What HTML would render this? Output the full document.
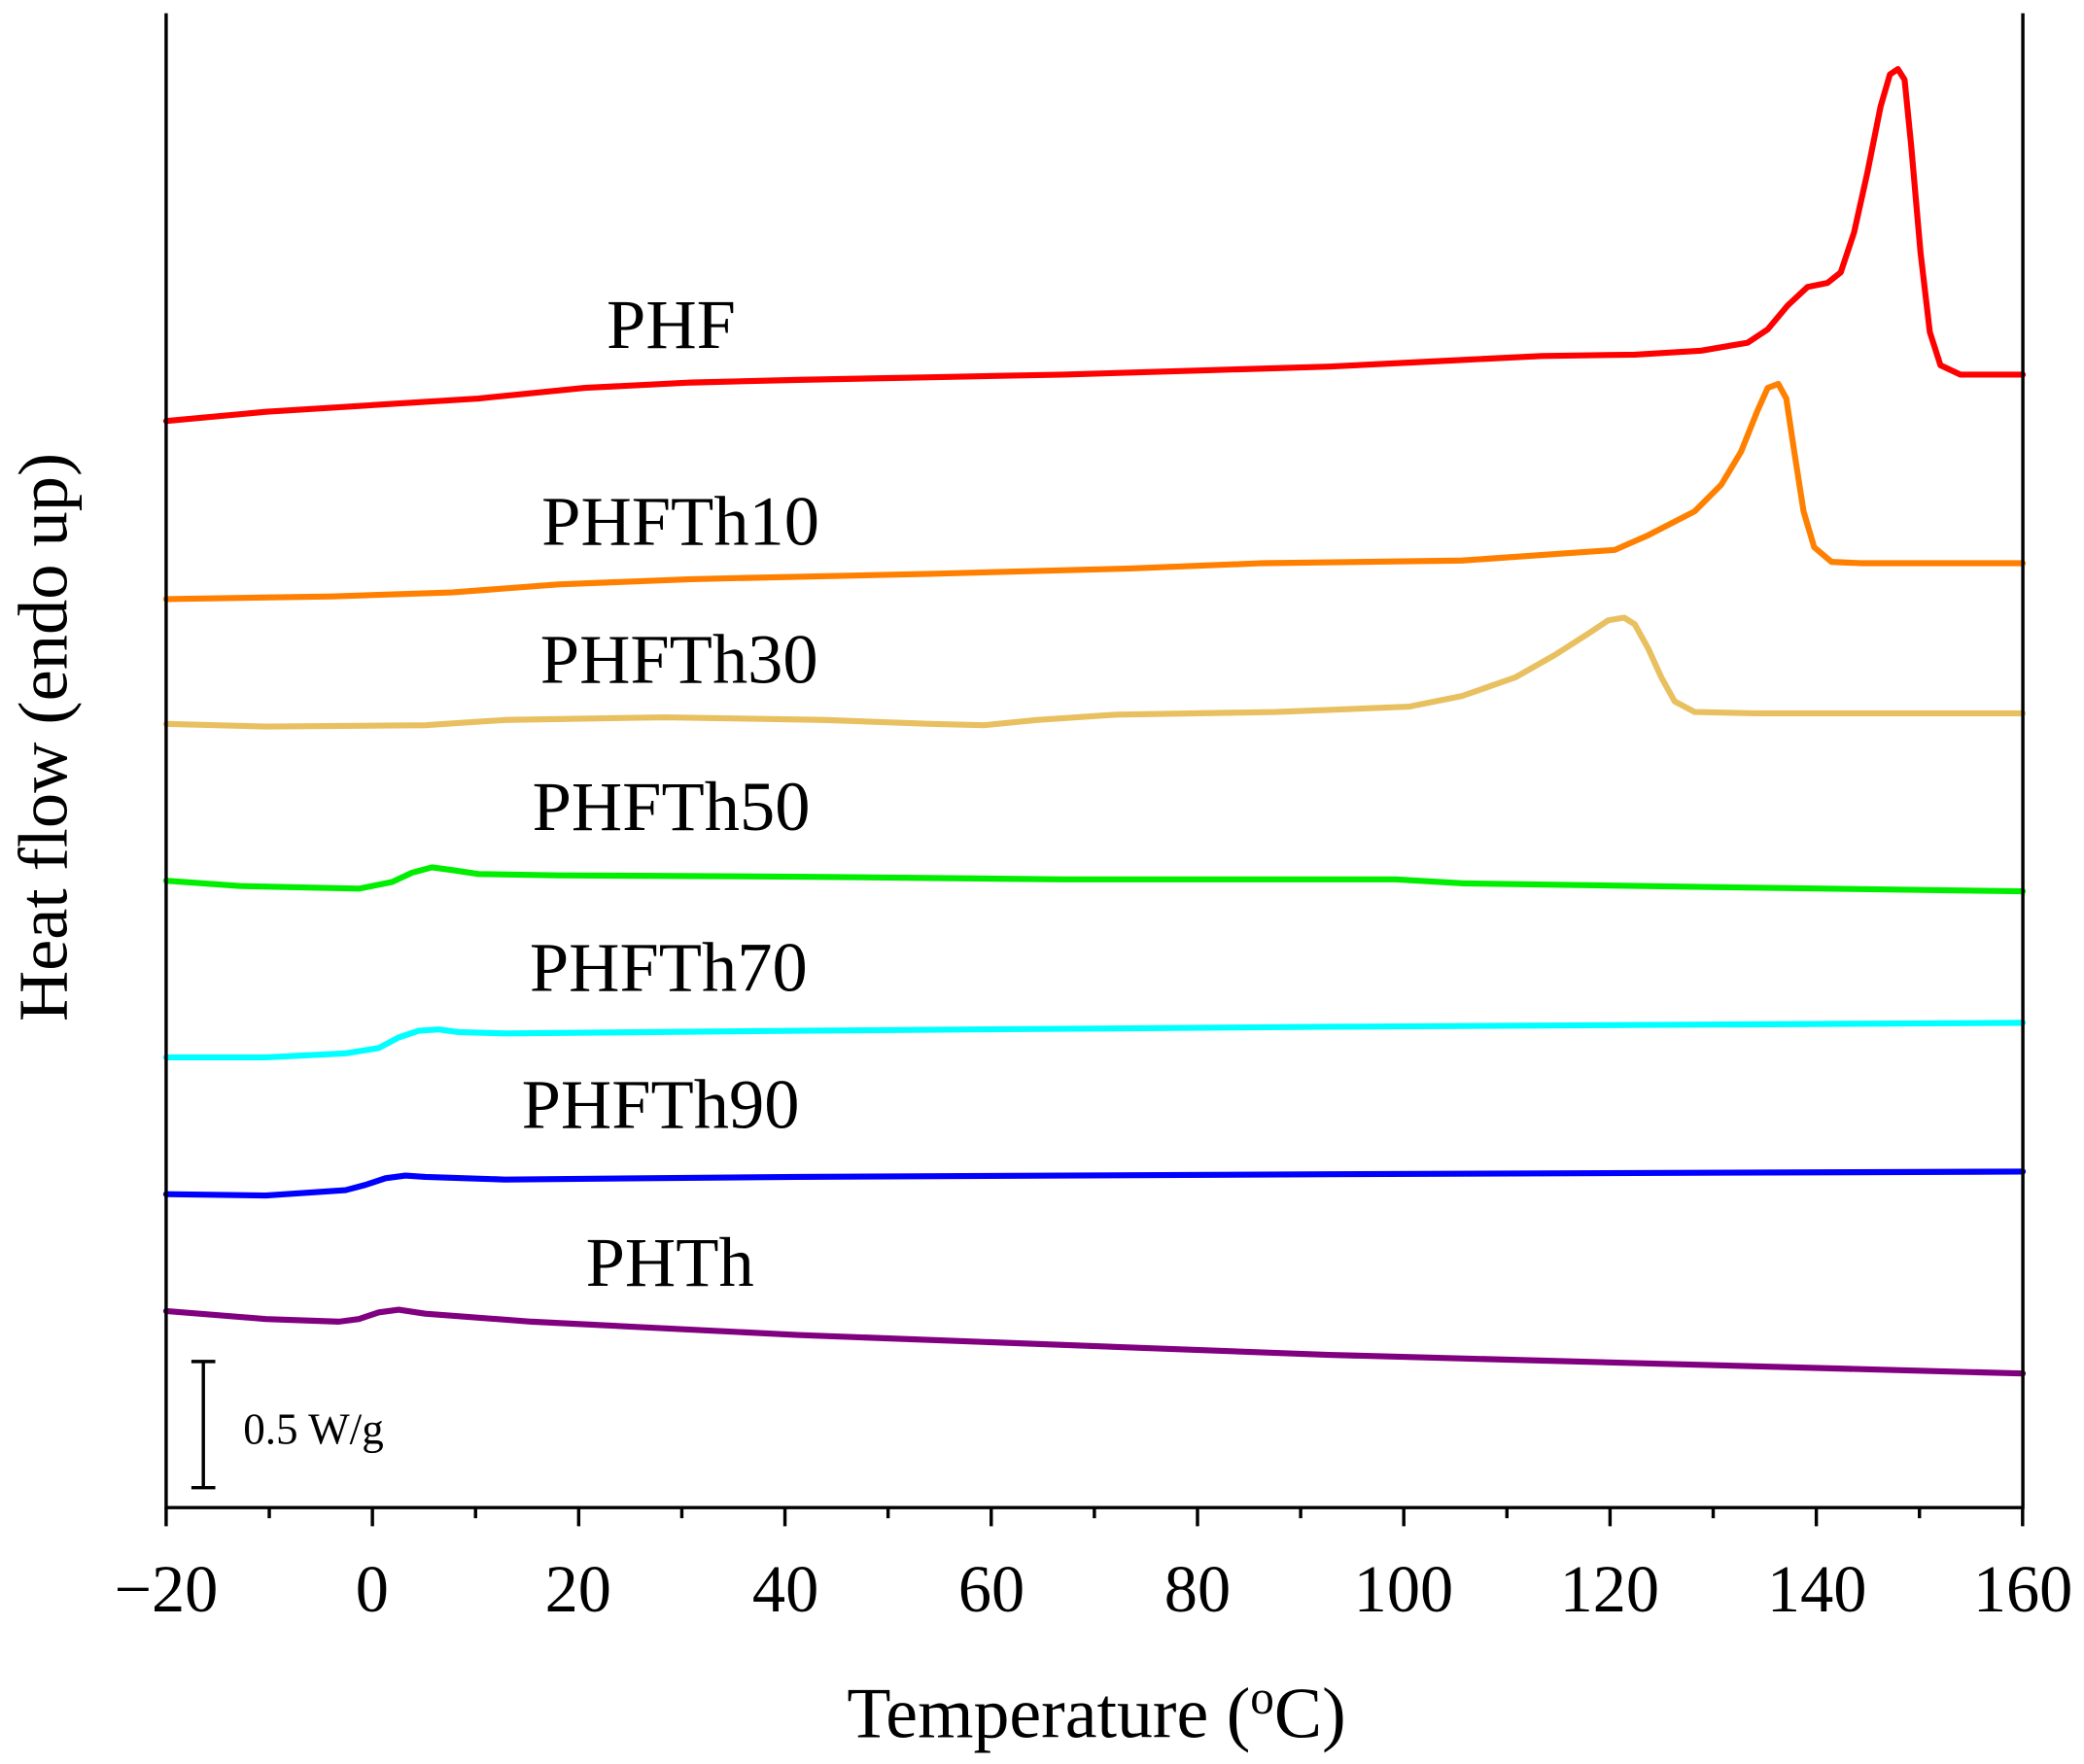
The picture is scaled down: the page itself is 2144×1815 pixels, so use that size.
<!DOCTYPE html>
<html><head><meta charset="utf-8"><style>html,body{margin:0;padding:0;background:#fff}svg{display:block}</style></head>
<body>
<svg width="2144" height="1815" viewBox="0 0 1568 1328" preserveAspectRatio="none" xmlns="http://www.w3.org/2000/svg" font-family="Liberation Serif, serif">
<rect width="1568" height="1328" fill="#fff"/>
<g fill="none" stroke-width="4.5" stroke-linejoin="round" stroke-linecap="round">
<polyline stroke="#ff0000" points="125,317 200,310 280,305 360,300 440,292 520,288 600,286 700,284 800,282 900,279 1000,276 1080,272 1160,268 1230,267 1280,264 1315,258 1330,248 1345,230 1360,216 1375,213 1385,205 1395,175 1405,130 1415,80 1422,56 1428,52 1433,60 1438,110 1445,190 1452,250 1460,275 1475,282 1522,282"/>
<polyline stroke="#ff8000" points="125,451 250,449 340,446 420,440 520,436 700,432 850,428 950,424 1100,422 1215,414 1240,403 1275,385 1295,365 1310,340 1322,310 1330,292 1338,289 1344,300 1350,340 1357,385 1365,412 1378,423 1400,424 1522,424"/>
<polyline stroke="#e8c060" points="125,545 200,547 320,546 380,542 500,540 620,542 700,545 740,546 780,542 840,538 960,536 1060,532 1100,524 1140,510 1170,493 1195,477 1210,467 1222,465 1230,470 1240,488 1250,510 1260,528 1275,536 1320,537 1522,537"/>
<polyline stroke="#00ee00" points="125,663 180,667 270,669 295,664 310,657 325,653 340,655 360,658 420,659 600,660 800,662 1000,662 1050,662 1100,665 1300,668 1522,671"/>
<polyline stroke="#00ffff" points="125,796 200,796 260,793 285,789 300,781 315,776 330,775 345,777 380,778 600,776 1000,773 1522,770"/>
<polyline stroke="#0000ff" points="125,899 200,900 260,896 275,892 290,887 305,885 320,886 380,888 600,886 1000,884 1522,882"/>
<polyline stroke="#800080" points="125,987 200,993 255,995 270,993 285,988 300,986 320,989 400,995 600,1005 1000,1020 1522,1034"/>
</g>
<g stroke="#000" stroke-width="2.5" fill="none">
<line x1="125" y1="10" x2="125" y2="1136"/>
<line x1="124" y1="1135" x2="1523" y2="1135"/>
<line x1="1522" y1="10" x2="1522" y2="1136"/>
<path d="M125 1135v14M280.2 1135v14M435.4 1135v14M590.6 1135v14M745.8 1135v14M901 1135v14M1056.2 1135v14M1211.4 1135v14M1366.6 1135v14M1521.8 1135v14"/>
<path d="M202.6 1135v8M357.8 1135v8M513 1135v8M668.2 1135v8M823.4 1135v8M978.6 1135v8M1133.8 1135v8M1289 1135v8M1444.2 1135v8"/>
<path d="M153 1025v95M144 1025h18M144 1120h18"/>
</g>
<g font-size="53" text-anchor="middle" fill="#000">
<text x="505" y="262">PHF</text>
<text x="512" y="410">PHFTh10</text>
<text x="511" y="514">PHFTh30</text>
<text x="505" y="625">PHFTh50</text>
<text x="503" y="746">PHFTh70</text>
<text x="497" y="849">PHFTh90</text>
<text x="504" y="968">PHTh</text>
</g>
<g font-size="50" text-anchor="middle" fill="#000">
<text x="125" y="1213">−20</text><text x="280" y="1213">0</text><text x="435" y="1213">20</text><text x="591" y="1213">40</text><text x="746" y="1213">60</text><text x="901" y="1213">80</text><text x="1056" y="1213">100</text><text x="1211" y="1213">120</text><text x="1367" y="1213">140</text><text x="1522" y="1213">160</text>
</g>
<text x="825" y="1308" font-size="54" text-anchor="middle">Temperature (<tspan dy="-18" font-size="36">o</tspan><tspan dy="18">C)</tspan></text>
<text transform="translate(50,555) rotate(-90)" font-size="53" text-anchor="middle">Heat flow (endo up)</text>
<text x="183" y="1087" font-size="33">0.5 W/g</text>
</svg>
</body></html>
